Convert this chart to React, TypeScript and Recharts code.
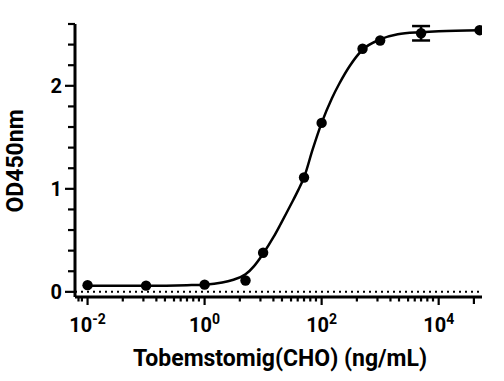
import React from "react";
import {
  ComposedChart,
  Line,
  Scatter,
  XAxis,
  YAxis,
  ReferenceLine,
  ErrorBar,
} from "recharts";

// Measured points (concentration in ng/mL, OD450)
const concentrations = [0.01, 0.1, 1, 5, 10, 50, 100, 500, 1000, 5000, 50000];
const odMeans = [0.065, 0.06, 0.07, 0.11, 0.38, 1.11, 1.64, 2.36, 2.44, 2.51, 2.54];
const odErrors = [0, 0, 0, 0, 0, 0, 0, 0, 0, 0.07, 0];

// Fitted curve
const fitX = [0.01, 0.1, 0.5, 1, 2, 3, 5, 7, 10, 15, 20, 30, 40, 50, 70, 100, 150, 200, 300, 500, 1000, 2000, 5000, 10000, 50000];
const fitY = [0.06, 0.06, 0.065, 0.07, 0.09, 0.115, 0.17, 0.25, 0.37, 0.53, 0.66, 0.85, 0.99, 1.11, 1.38, 1.64, 1.88, 2.02, 2.19, 2.35, 2.45, 2.5, 2.52, 2.53, 2.54];

// Axis ranges and ticks
const xDomain = [0.0061, 55000];
const yDomain = [-0.05, 2.6];
const xMajorTicks = [0.01, 1, 100, 10000];
const xMajorLabels = ["-2", "0", "2", "4"];
const xMinorMultipliers = [4, 9, 15, 21, 30, 39, 50, 64, 80];
const xEdgeTicks = [0.007, 0.008, 40000];
const yTicks = [0, 0.2, 0.4, 0.6, 0.8, 1, 1.2, 1.4, 1.6, 1.8, 2, 2.2, 2.4, 2.6];

const xTitle = "Tobemstomig(CHO) (ng/mL)";
const yTitle = "OD450nm";

const FONT = "Roboto, 'DejaVu Sans', sans-serif";

const pointData = concentrations.map((x, i) => ({ x, y: odMeans[i], err: odErrors[i] }));
const curveData = fitX.map((x, i) => ({ x, y: fitY[i] }));
const xAllTicks = [
  ...xEdgeTicks.filter((v) => v < 1),
  ...xMajorTicks,
  ...[0.01, 1, 100].flatMap((b) => xMinorMultipliers.map((m) => +(b * m).toPrecision(6))),
  ...xEdgeTicks.filter((v) => v > 1),
].sort((a, b) => a - b);

const XTick = (props: any) => {
  const { x, y, payload } = props;
  const v = payload.value;
  const idx = xMajorTicks.findIndex((m) => Math.abs(m - v) / m < 1e-6);
  const major = idx >= 0;
  const isEnd = v === 40000;
  return (
    <g>
      <line x1={x} x2={x} y1={y} y2={y + (major ? 8 : isEnd ? 7 : 4.5)} stroke="#000" strokeWidth={2.2} />
      {major && (
        <text x={x} y={y + 35} textAnchor="middle" fontFamily={FONT} fontWeight="bold" fontSize={20} fill="#000">
          <tspan>10</tspan>
          <tspan dy={-8} fontSize={14}>
            {xMajorLabels[idx]}
          </tspan>
        </text>
      )}
    </g>
  );
};

const YTick = (props: any) => {
  const { x, y, payload } = props;
  const v = payload.value;
  const major = Math.abs(v - Math.round(v)) < 1e-6;
  return (
    <g>
      <line x1={x - (major ? 10 : 7)} x2={x} y1={y} y2={y} stroke="#000" strokeWidth={2.2} />
      {major && (
        <text x={x - 13} y={y} dy="0.36em" textAnchor="end" fontFamily={FONT} fontWeight="bold" fontSize={20} fill="#000">
          {Math.round(v)}
        </text>
      )}
    </g>
  );
};

const Dot = (p: any) => <circle cx={p.cx} cy={p.cy} r={5.2} fill="#000" />;

export default function App() {
  return (
    <div style={{ position: "absolute", left: 0, top: 0, width: 504, height: 381, background: "#fff" }}>
      <ComposedChart width={504} height={381} margin={{ top: 24, right: 22, bottom: 0, left: 0 }}>
        <XAxis
          dataKey="x"
          type="number"
          scale="log"
          domain={xDomain}
          allowDataOverflow
          ticks={xAllTicks}
          interval={0}
          tick={<XTick />}
          tickLine={false}
          tickSize={0}
          tickMargin={0}
          height={84}
          stroke="#000"
          strokeWidth={3}
          axisLine={{ stroke: "#000", strokeWidth: 3 }}
        />
        <YAxis
          type="number"
          domain={yDomain}
          allowDataOverflow
          ticks={yTicks}
          interval={0}
          tick={<YTick />}
          tickLine={false}
          tickSize={0}
          tickMargin={0}
          width={75}
          stroke="#000"
          strokeWidth={3}
          axisLine={{ stroke: "#000", strokeWidth: 3 }}
        />
        <ReferenceLine y={0} stroke="#000" strokeWidth={2} strokeDasharray="2 4" />
        <Line
          data={curveData}
          dataKey="y"
          type="monotone"
          stroke="#000"
          strokeWidth={2.5}
          dot={false}
          activeDot={false}
          isAnimationActive={false}
        />
        <Scatter data={pointData} dataKey="y" shape={<Dot />} isAnimationActive={false}>
          <ErrorBar dataKey="err" direction="y" width={9} stroke="#000" strokeWidth={2.5} />
        </Scatter>
      </ComposedChart>
      <svg width={504} height={381} style={{ position: "absolute", left: 0, top: 0, pointerEvents: "none" }}>
        <text x={280} y={366} textAnchor="middle" fontFamily={FONT} fontWeight="bold" fontSize={23} fill="#000">
          {xTitle}
        </text>
        <text
          x={0}
          y={0}
          transform="translate(23,161) rotate(-90)"
          textAnchor="middle"
          fontFamily={FONT}
          fontWeight="bold"
          fontSize={23}
          fill="#000"
        >
          {yTitle}
        </text>
      </svg>
    </div>
  );
}
